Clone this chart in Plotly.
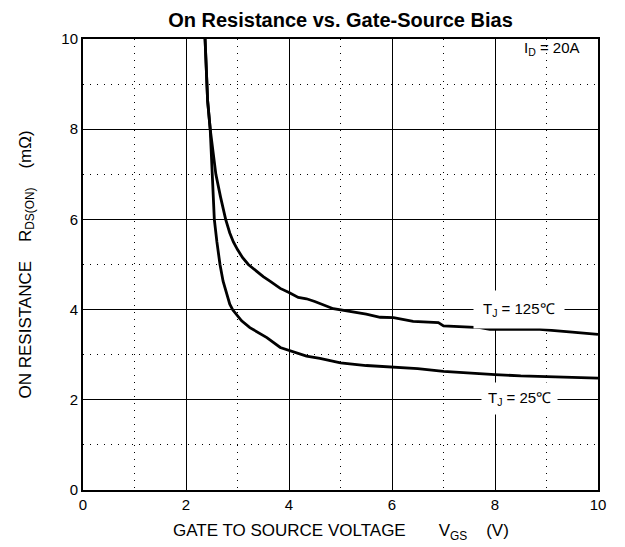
import plotly.graph_objects as go

# gate-source voltage (V) and on-resistance (mOhm)
vgs_25 = [2.37, 2.42, 2.47, 2.51, 2.55, 2.60, 2.66, 2.72, 2.79, 2.85, 2.91, 2.98, 3.08, 3.24, 3.4, 3.57,
          3.83, 4.0, 4.34, 4.6, 5.0, 5.5, 6.0, 6.5, 7.0, 7.5, 8.0, 8.5, 9.0, 9.5, 10.0]
rds_25 = [10.0, 8.63, 8.0, 7.0, 6.0, 5.5, 5.0, 4.63, 4.32, 4.12, 3.99, 3.88, 3.75, 3.6, 3.5, 3.38,
          3.16, 3.1, 2.97, 2.92, 2.82, 2.76, 2.73, 2.69, 2.63, 2.59, 2.56, 2.53, 2.51, 2.50, 2.48]

vgs_125 = [2.37, 2.42, 2.47, 2.52, 2.58, 2.67, 2.77, 2.85, 2.92, 3.0, 3.1, 3.21, 3.35, 3.5, 3.63, 3.83,
           4.0, 4.18, 4.34, 4.5, 4.86, 5.1, 5.5, 5.77, 6.03, 6.41, 6.9, 7.0, 7.71, 7.9, 8.5, 8.87,
           9.5, 10.0]
rds_125 = [10.0, 8.63, 8.0, 7.5, 7.0, 6.5, 6.0, 5.7, 5.5, 5.33, 5.15, 5.0, 4.86, 4.73, 4.63, 4.47,
           4.38, 4.27, 4.24, 4.18, 4.02, 3.98, 3.9, 3.83, 3.82, 3.74, 3.71, 3.64, 3.6, 3.56, 3.56, 3.56,
           3.5, 3.45]

x_ticks = [0, 2, 4, 6, 8, 10]
y_ticks = [0, 2, 4, 6, 8, 10]

FONT = "Arial, Liberation Sans, sans-serif"

fig = go.Figure()
fig.add_trace(go.Scatter(x=vgs_125, y=rds_125, mode="lines", line=dict(color="black", width=2.8),
                         name="TJ=125"))
fig.add_trace(go.Scatter(x=vgs_25, y=rds_25, mode="lines", line=dict(color="black", width=2.8),
                         name="TJ=25"))

axis_common = dict(
    showline=True, mirror=True, linecolor="black", linewidth=2,
    showgrid=True, gridcolor="black", gridwidth=1.3,
    ticks="", zeroline=False,
    tickfont=dict(family=FONT, size=15, color="black"),
    minor=dict(dtick=1, showgrid=True, gridcolor="black", gridwidth=1, griddash="1px,6px"),
)
fig.update_xaxes(range=[0, 10], tickvals=x_ticks, **axis_common)
fig.update_yaxes(range=[0, 10], tickvals=y_ticks, **axis_common)

fig.add_annotation(x=8.47, y=4.0, text="T<sub>J</sub> = 125℃", showarrow=False, bgcolor="white",
                   borderpad=9, font=dict(family=FONT, size=15, color="black"))
fig.add_annotation(x=8.47, y=2.02, text="T<sub>J</sub> = 25℃", showarrow=False, bgcolor="white",
                   borderpad=6, font=dict(family=FONT, size=15, color="black"))
fig.add_annotation(x=9.1, y=9.8, text="I<sub>D</sub> = 20A", showarrow=False,
                   font=dict(family=FONT, size=15, color="black"))

sp = "\u00a0"
fig.add_annotation(xref="paper", yref="paper", x=0.5, y=0, yshift=-42, yanchor="middle",
                   text=f"GATE TO SOURCE VOLTAGE{sp * 7}V<sub>GS</sub>{sp * 4}(V)", showarrow=False,
                   font=dict(family=FONT, size=17, color="black"))
fig.add_annotation(xref="paper", yref="paper", x=0, y=0.5, xshift=-57, xanchor="center",
                   text=f"ON RESISTANCE{sp * 4}R<sub>DS(ON)</sub>{sp * 4}(mΩ)", showarrow=False,
                   textangle=-90, font=dict(family=FONT, size=17, color="black"))

fig.update_layout(
    width=625, height=547,
    margin=dict(l=75, r=35, t=31, b=65),
    title=dict(text="<b>On Resistance vs. Gate-Source Bias</b>", x=0.5, xref="paper",
               y=1 - 12 / 547, yanchor="middle", font=dict(family=FONT, size=20, color="black")),
    paper_bgcolor="white", plot_bgcolor="white",
    showlegend=False,
)

fig.write_html("out.html")
